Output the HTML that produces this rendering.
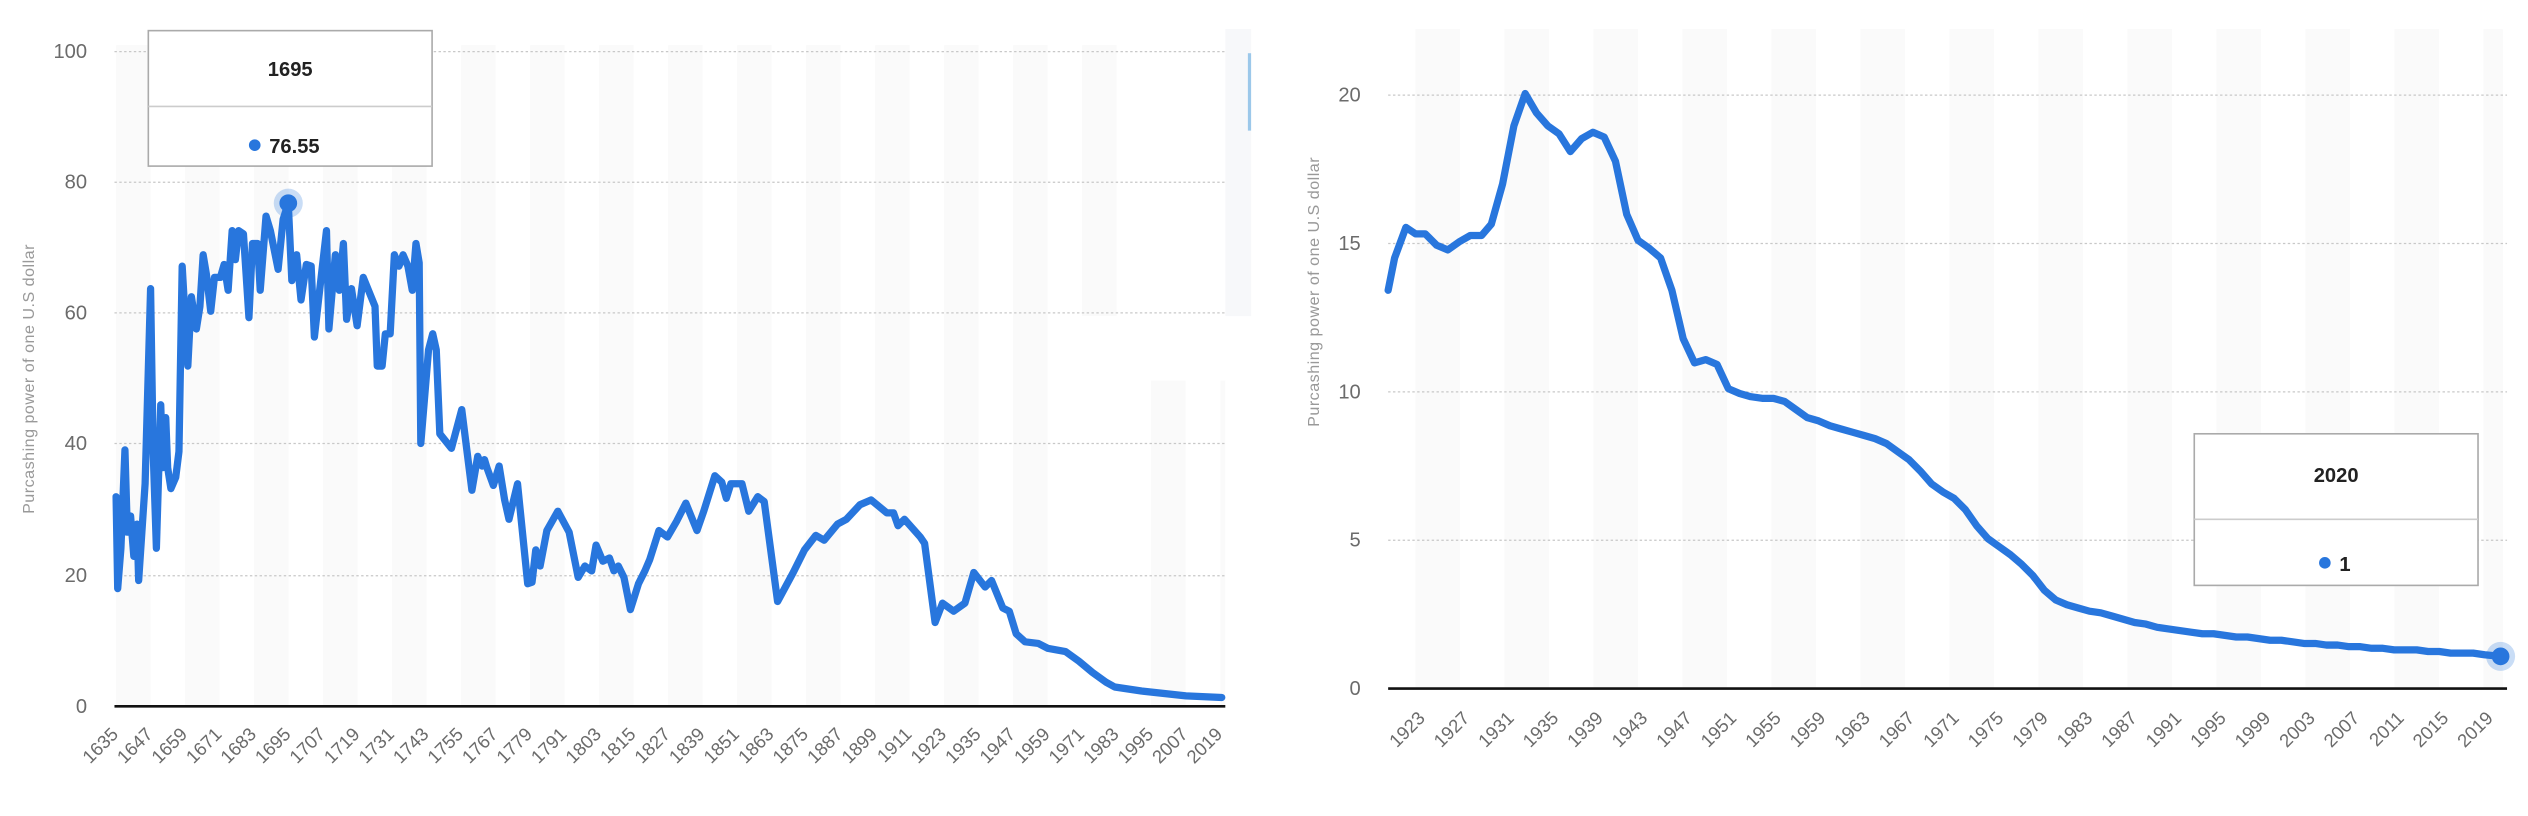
<!DOCTYPE html>
<html><head><meta charset="utf-8"><style>
html,body{margin:0;padding:0;background:#fff;}
svg{display:block;}
text{font-family:"Liberation Sans",sans-serif;}
</style></head><body>
<svg width="2528" height="816" viewBox="0 0 1568 506" preserveAspectRatio="none" xmlns="http://www.w3.org/2000/svg">
<rect width="1568" height="506" fill="#fff"/>
<!-- LEFT CHART stripes -->
<g fill="#fafafa">
<rect x="72" y="28" width="21.4" height="410"/><rect x="114.8" y="28" width="21.4" height="410"/><rect x="157.6" y="28" width="21.4" height="410"/><rect x="200.4" y="28" width="21.4" height="410"/><rect x="243.2" y="28" width="21.4" height="410"/><rect x="286" y="28" width="21.4" height="410"/><rect x="328.8" y="28" width="21.4" height="410"/><rect x="371.6" y="28" width="21.4" height="410"/><rect x="414.4" y="28" width="21.4" height="410"/><rect x="457.2" y="28" width="21.4" height="410"/><rect x="500" y="28" width="21.4" height="410"/><rect x="542.8" y="28" width="21.4" height="410"/><rect x="585.6" y="28" width="21.4" height="410"/><rect x="628.4" y="28" width="21.4" height="410"/><rect x="671.2" y="28" width="21.4" height="168"/><rect x="714" y="236" width="21.4" height="202"/><rect x="757" y="236" width="3" height="202"/>
</g>
<rect x="760" y="18" width="16" height="178" fill="#f7f8fa"/>
<rect x="774" y="33" width="2" height="48" fill="#9cc8ea"/>
<g stroke="#c8c8c8" stroke-width="0.8" stroke-dasharray="1.5,1.5">
<line x1="71" y1="32" x2="760" y2="32"/><line x1="71" y1="113" x2="760" y2="113"/><line x1="71" y1="194" x2="760" y2="194"/><line x1="71" y1="275" x2="760" y2="275"/><line x1="71" y1="357" x2="760" y2="357"/>
</g>
<line x1="71" y1="438" x2="760" y2="438" stroke="#111" stroke-width="1.6"/>
<g font-size="12.5" fill="#6b6b6b" text-anchor="end">
<text x="54" y="36">100</text><text x="54" y="117">80</text><text x="54" y="198">60</text><text x="54" y="279">40</text><text x="54" y="361">20</text><text x="54" y="442">0</text>
</g>
<text transform="translate(21,235) rotate(-90)" font-size="10" fill="#999" text-anchor="middle" letter-spacing="0.3">Purcashing power of one U.S dollar</text>
<g font-size="11.5" fill="#6b6b6b" text-anchor="end">
<text transform="translate(74,456) rotate(-45)">1635</text><text transform="translate(95.4,456) rotate(-45)">1647</text><text transform="translate(116.8,456) rotate(-45)">1659</text><text transform="translate(138.2,456) rotate(-45)">1671</text><text transform="translate(159.6,456) rotate(-45)">1683</text><text transform="translate(181,456) rotate(-45)">1695</text><text transform="translate(202.4,456) rotate(-45)">1707</text><text transform="translate(223.8,456) rotate(-45)">1719</text><text transform="translate(245.2,456) rotate(-45)">1731</text><text transform="translate(266.6,456) rotate(-45)">1743</text><text transform="translate(288,456) rotate(-45)">1755</text><text transform="translate(309.4,456) rotate(-45)">1767</text><text transform="translate(330.8,456) rotate(-45)">1779</text><text transform="translate(352.2,456) rotate(-45)">1791</text><text transform="translate(373.6,456) rotate(-45)">1803</text><text transform="translate(395,456) rotate(-45)">1815</text><text transform="translate(416.4,456) rotate(-45)">1827</text><text transform="translate(437.8,456) rotate(-45)">1839</text><text transform="translate(459.2,456) rotate(-45)">1851</text><text transform="translate(480.6,456) rotate(-45)">1863</text><text transform="translate(502,456) rotate(-45)">1875</text><text transform="translate(523.4,456) rotate(-45)">1887</text><text transform="translate(544.8,456) rotate(-45)">1899</text><text transform="translate(566.2,456) rotate(-45)">1911</text><text transform="translate(587.6,456) rotate(-45)">1923</text><text transform="translate(609,456) rotate(-45)">1935</text><text transform="translate(630.4,456) rotate(-45)">1947</text><text transform="translate(651.8,456) rotate(-45)">1959</text><text transform="translate(673.2,456) rotate(-45)">1971</text><text transform="translate(694.6,456) rotate(-45)">1983</text><text transform="translate(716,456) rotate(-45)">1995</text><text transform="translate(737.4,456) rotate(-45)">2007</text><text transform="translate(758.8,456) rotate(-45)">2019</text>
</g>
<polyline fill="none" stroke="#2876dd" stroke-width="4.5" stroke-linejoin="round" stroke-linecap="round" points="72,308 73,365 75,340 77.5,279 79,330 81,320 83,345 85,325 86,360 88,330 90,300 93.4,179 95,280 97,340 99.7,251 101,290 102.8,259 104,290 106,303 109,296 111,280 113,165 115,200 116.5,227 118.7,184 121.8,204 124,190 126,158 128,170 130.7,193 133,172 136.7,172 139,164 141.5,180 144,143 146,161 148,143 151,145 154.4,197 156.6,151 159.8,151 161.4,180 165,134 167.7,143 172.5,167 175.6,136 178.8,126 181,174 184,158 186.7,186 190,164 193,165 195,209 197.8,184 202.5,143 204,204 208,158 210.4,180 213,151 215,198 218,179 221.5,202 225.3,172 232.6,190 234,227 237,227 239,207 242,207 244.6,158 247.5,165 250,158 253,165 255.7,180 258,151 260,163 261,275 265.8,217 268.4,207 270.6,217 272.8,269 280,278 286.4,254 292.7,304 296.3,283 299,289 300.5,285 302,290 306,301 309.6,289 313,310 315.7,322 321,300 327.3,362 330,361 332.3,341 335,351 339.2,329 346,317 353,330 358.6,358 362.8,351 367,354 369.7,338 373.9,348 378,346 380.8,354 383.5,351 387,358 391,378 396,362 400,354 403,347 408.7,329 414,333 419.8,323 425.4,312 432.3,329 436.5,317 443.4,295 447.7,299 450.5,309 453.3,300 460.2,300 464.4,317 470,308 474,311 482.3,373 492,355 499,341 506,332 511.2,335 519.5,325 525,322 533.4,313 540.3,310 550,318 554.2,318 557,326 561,322 570.8,333 573.5,337 580,386 584.6,374 591.5,379 598.5,374 604,355 611,364 615,360 622,377 626,379 630.3,393 635.8,398 644,399 649.8,402 660.9,404 669.2,410 677.6,417 686,423 691.4,426 708,428.5 735.6,431.5 757.8,432.5"/>
<circle cx="178.8" cy="126" r="9" fill="#2876dd" fill-opacity="0.25"/>
<circle cx="178.8" cy="126" r="5.5" fill="#2876dd"/>
<rect x="92" y="19" width="176" height="84" fill="#fff" stroke="#aaa" stroke-width="1"/>
<line x1="92" y1="66" x2="268" y2="66" stroke="#ccc" stroke-width="1"/>
<text x="180" y="47" font-size="12.5" font-weight="bold" fill="#222" text-anchor="middle">1695</text>
<circle cx="158" cy="90" r="3.6" fill="#2876dd"/>
<text x="167" y="95" font-size="12.5" font-weight="bold" fill="#222">76.55</text>

<!-- RIGHT CHART stripes -->
<g fill="#fafafa">
<rect x="878" y="18" width="27.6" height="409"/><rect x="933.2" y="18" width="27.6" height="409"/><rect x="988.4" y="18" width="27.6" height="409"/><rect x="1043.6" y="18" width="27.6" height="409"/><rect x="1098.8" y="18" width="27.6" height="409"/><rect x="1154" y="18" width="27.6" height="409"/><rect x="1209.2" y="18" width="27.6" height="409"/><rect x="1264.4" y="18" width="27.6" height="409"/><rect x="1319.6" y="18" width="27.6" height="409"/><rect x="1374.8" y="18" width="27.6" height="409"/><rect x="1430" y="18" width="27.6" height="409"/><rect x="1485.2" y="18" width="27.6" height="409"/><rect x="1540.4" y="18" width="12" height="409"/>
</g>
<g stroke="#c8c8c8" stroke-width="0.8" stroke-dasharray="1.5,1.5">
<line x1="861" y1="59" x2="1555" y2="59"/><line x1="861" y1="151" x2="1555" y2="151"/><line x1="861" y1="243" x2="1555" y2="243"/><line x1="861" y1="335" x2="1555" y2="335"/>
</g>
<line x1="861" y1="427" x2="1555" y2="427" stroke="#111" stroke-width="1.6"/>
<g font-size="12.5" fill="#6b6b6b" text-anchor="end">
<text x="844" y="63">20</text><text x="844" y="155">15</text><text x="844" y="247">10</text><text x="844" y="339">5</text><text x="844" y="431">0</text>
</g>
<text transform="translate(818,181) rotate(-90)" font-size="10" fill="#999" text-anchor="middle" letter-spacing="0.3">Purcashing power of one U.S dollar</text>
<g font-size="11.5" fill="#6b6b6b" text-anchor="end">
<text transform="translate(884.5,446) rotate(-45)">1923</text><text transform="translate(912.1,446) rotate(-45)">1927</text><text transform="translate(939.7,446) rotate(-45)">1931</text><text transform="translate(967.3,446) rotate(-45)">1935</text><text transform="translate(994.9,446) rotate(-45)">1939</text><text transform="translate(1022.5,446) rotate(-45)">1943</text><text transform="translate(1050.1,446) rotate(-45)">1947</text><text transform="translate(1077.7,446) rotate(-45)">1951</text><text transform="translate(1105.3,446) rotate(-45)">1955</text><text transform="translate(1132.9,446) rotate(-45)">1959</text><text transform="translate(1160.5,446) rotate(-45)">1963</text><text transform="translate(1188.1,446) rotate(-45)">1967</text><text transform="translate(1215.7,446) rotate(-45)">1971</text><text transform="translate(1243.3,446) rotate(-45)">1975</text><text transform="translate(1270.9,446) rotate(-45)">1979</text><text transform="translate(1298.5,446) rotate(-45)">1983</text><text transform="translate(1326.1,446) rotate(-45)">1987</text><text transform="translate(1353.7,446) rotate(-45)">1991</text><text transform="translate(1381.3,446) rotate(-45)">1995</text><text transform="translate(1408.9,446) rotate(-45)">1999</text><text transform="translate(1436.5,446) rotate(-45)">2003</text><text transform="translate(1464.1,446) rotate(-45)">2007</text><text transform="translate(1491.7,446) rotate(-45)">2011</text><text transform="translate(1519.3,446) rotate(-45)">2015</text><text transform="translate(1546.9,446) rotate(-45)">2019</text>
</g>
<polyline fill="none" stroke="#2876dd" stroke-width="4.5" stroke-linejoin="round" stroke-linecap="round" points="861,180 865,160 872,141 878,145 884,145 891,152 898,155 905,150 912,146 919,146 925,139 932,114 939,78 946,58 953,70 960,78 967,83 974,94 981,86 988,82 995,85 1002,100 1009,133 1016,149 1023,154 1030,160 1037,180 1044,210 1051,225 1058,223 1065,226 1072,241 1079,244 1086,246 1093,247 1100,247 1107,249 1114,254 1121,259 1128,261 1135,264 1142,266 1149,268 1156,270 1163,272 1170,275 1177,280 1184,285 1191,292 1198,300 1205,305 1212,309 1219,316 1226,326 1233,334 1240,339 1247,344 1254,350 1261,357 1268,366 1275,372 1282,375 1289,377 1296,379 1303,380 1310,382 1317,384 1324,386 1331,387 1338,389 1345,390 1352,391 1359,392 1366,393 1373,393 1380,394 1387,395 1394,395 1401,396 1408,397 1415,397 1422,398 1429,399 1436,399 1443,400 1450,400 1457,401 1464,401 1471,402 1478,402 1485,403 1492,403 1499,403 1506,404 1513,404 1520,405 1527,405 1534,405 1541,406 1551,407"/>
<circle cx="1551" cy="407" r="9" fill="#2876dd" fill-opacity="0.25"/>
<circle cx="1551" cy="407" r="5.5" fill="#2876dd"/>
<rect x="1361" y="269" width="176" height="94" fill="#fff" stroke="#aaa" stroke-width="1"/>
<line x1="1361" y1="322" x2="1537" y2="322" stroke="#ccc" stroke-width="1"/>
<text x="1449" y="299" font-size="12.5" font-weight="bold" fill="#222" text-anchor="middle">2020</text>
<circle cx="1442" cy="349" r="3.6" fill="#2876dd"/>
<text x="1451" y="354" font-size="12.5" font-weight="bold" fill="#222">1</text>
</svg>
</body></html>
